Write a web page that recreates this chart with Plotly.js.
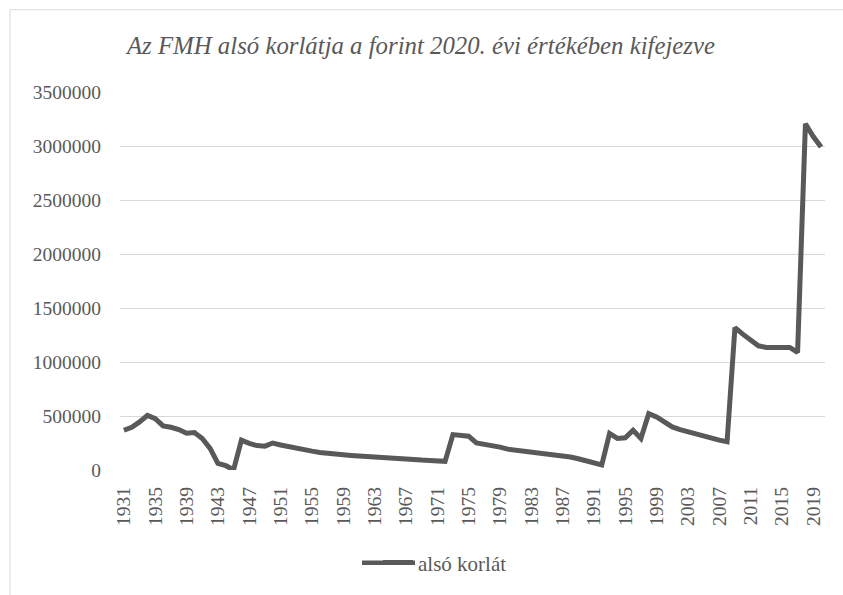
<!DOCTYPE html>
<html>
<head>
<meta charset="utf-8">
<script src="https://cdn.plot.ly/plotly-3.0.1.min.js"></script>
<style>html,body{margin:0;padding:0;background:#fff;}#chart{width:843px;height:595px;}</style>
</head>
<body>
<div id="chart"></div>
<script>
const years = [];
for (let y = 1931; y <= 2020; y++) years.push(y);
const values = [
  368000, 396000, 445000, 506000, 476000, 408000, 396000, 375000, 340000, 347000,
  292000, 200000, 62000, 40000, 2000, 276000, 246000, 226000, 221000, 250000,
  232000, 216000, 199000, 187000, 175000, 163000, 153000, 147000, 141000, 135000,
  129000, 123000, 120000, 113000, 110000, 104000, 101000, 98000, 92000, 89000,
  86000, 80000, 328000, 318000, 313000, 251000, 239000, 230000, 212000, 193000,
  184000, 178000, 169000, 159000, 153000, 144000, 135000, 120000, 104000, 86000,
  62000, 46000, 338000, 292000, 298000, 368000, 292000, 522000, 491000, 445000,
  399000, 374000, 353000, 328000, 316000, 298000, 276000, 261000, 1319000, 1258000,
  1205000, 1150000, 1135000, 1135000, 1135000, 1135000, 1089000, 3205000, 3088000, 2990000
];
const tickYears = [];
for (let y = 1931; y <= 2019; y += 4) tickYears.push(y);
const yTicks = [0, 500000, 1000000, 1500000, 2000000, 2500000, 3000000, 3500000];
const seriesName = 'alsó korlát';
const titleText = 'Az FMH alsó korlátja a forint 2020. évi értékében kifejezve';

const L = 120, R = 825, T = 91.7, B = 471.7;
const W = 843, H = 595;
const pw = R - L, ph = B - T;
const px = v => (v - L) / pw;
const py = v => (B - v) / ph;

const FAM = 'Liberation Serif, Times New Roman, Times, serif';
const COL = '#595959';
const f = (size, extra) => Object.assign({family: FAM, color: COL, size: size}, extra || {});

Plotly.newPlot('chart', [{
  x: years, y: values, type: 'scatter', mode: 'lines', name: seriesName,
  line: {color: COL, width: 5}
}], {
  width: W, height: H,
  margin: {l: L, r: W - R, t: T, b: H - B, pad: 0},
  paper_bgcolor: '#fff', plot_bgcolor: '#fff',
  font: f(19.5),
  title: {text: titleText, font: f(24.8, {style: 'italic'}),
          x: 421 / W, xanchor: 'center', xref: 'container', y: 1 - 45 / H, yanchor: 'middle', yref: 'container'},
  xaxis: {type: 'linear', range: [1930.5, 2020.5], tickvals: tickYears, ticktext: tickYears.map(String),
          tickangle: -90, showgrid: false, zeroline: false, showline: false, ticks: '',
          ticklabelstandoff: 12, tickfont: f(19.5), fixedrange: true},
  yaxis: {range: [0, 3500000], tickvals: yTicks, ticktext: yTicks.map(String), showgrid: true,
          gridcolor: '#d9d9d9', gridwidth: 1, zeroline: false, showline: false, ticks: '',
          ticklabelstandoff: 18, tickfont: f(19.5), fixedrange: true},
  showlegend: true,
  legend: {orientation: 'h', x: px(378), xanchor: 'left', y: py(565), yanchor: 'middle',
           font: f(21), bgcolor: 'rgba(0,0,0,0)'},
  shapes: [
    {type: 'rect', xref: 'paper', yref: 'paper', x0: px(10), x1: px(900), y0: py(650), y1: py(9),
     line: {color: '#d9d9d9', width: 1}, fillcolor: 'rgba(0,0,0,0)', layer: 'below'},
    {type: 'line', xref: 'paper', yref: 'paper', x0: px(362), x1: px(415), y0: py(565), y1: py(565),
     line: {color: COL, width: 4.5}}
  ]
}, {displayModeBar: false, staticPlot: true});
</script>
</body>
</html>
